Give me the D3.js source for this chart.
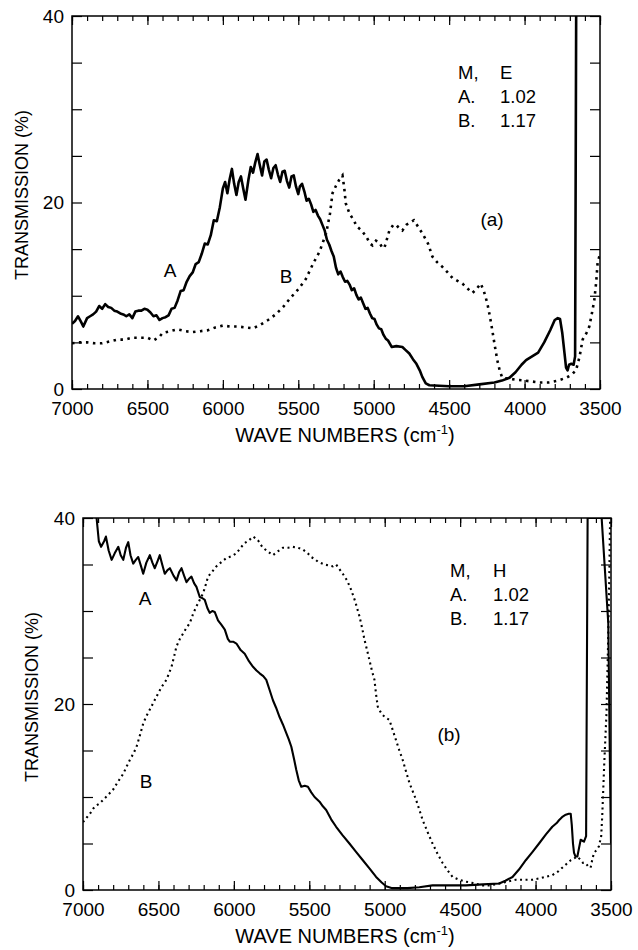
<!DOCTYPE html>
<html>
<head>
<meta charset="utf-8">
<script src="https://cdn.jsdelivr.net/npm/d3@7"></script>
<style>
    body { margin: 0; background: #fff; }
    svg text { font-family: "Liberation Sans", Arial, Helvetica, sans-serif; fill: #000; }
    .axis path { display: none; }
    .axis line { stroke: #000; stroke-width: 1.2; }
    .axis text { font-size: 19px; }
</style>
</head>
<body>
<div id="chart"></div>
<script>
// wave numbers (cm-1) and transmission (%)
var topA = [[7000,7.0],[6980,7.3],[6960,7.8],[6940,7.2],[6925,6.7],[6900,7.6],[6880,7.8],[6860,8.0],
    [6840,8.3],[6820,8.9],[6800,8.6],[6780,9.1],[6760,8.8],[6740,8.7],[6720,8.4],[6700,8.3],[6680,8.1],
    [6660,8.0],[6640,7.8],[6620,8.0],[6600,7.6],[6580,8.3],[6560,8.4],[6540,8.4],[6520,8.6],[6500,8.5],
    [6480,8.2],[6460,7.8],[6440,7.9],[6420,7.4],[6400,7.6],[6380,7.7],[6360,7.9],[6340,8.6],[6320,8.7],
    [6300,9.5],[6280,10.5],[6260,10.6],[6240,11.5],[6220,12.1],[6200,12.5],[6180,13.4],[6160,13.6],
    [6140,14.5],[6120,15.6],[6100,15.5],[6080,16.5],[6060,18.1],[6040,18.0],[6020,19.5],[6000,21.5],
    [5985,22.2],[5970,21.0],[5955,22.5],[5940,23.6],[5925,22.0],[5910,20.8],[5895,22.2],[5880,22.8],
    [5865,21.5],[5850,20.3],[5830,22.5],[5815,23.8],[5800,23.2],[5785,24.3],[5770,25.2],[5755,24.0],
    [5740,22.9],[5725,24.4],[5710,24.6],[5695,23.5],[5680,22.6],[5665,23.7],[5650,24.0],[5635,23.0],
    [5620,22.2],[5605,23.3],[5590,23.4],[5575,22.3],[5560,21.6],[5545,22.8],[5530,22.9],[5515,21.7],
    [5500,20.9],[5490,21.7],[5475,22.0],[5460,21.2],[5445,20.2],[5430,20.4],[5415,19.8],[5400,19.0],
    [5385,19.2],[5370,18.6],[5355,18.2],[5340,17.6],[5325,17.0],[5310,16.0],[5295,15.5],[5280,14.8],
    [5265,14.2],[5250,13.0],[5235,12.3],[5220,12.6],[5205,12.0],[5190,11.5],[5175,11.6],[5160,11.2],
    [5145,10.6],[5130,10.8],[5115,10.1],[5100,9.6],[5085,9.8],[5070,9.2],[5055,8.6],[5040,8.7],
    [5025,8.1],[5010,7.6],[4995,7.5],[4980,6.9],[4965,6.5],[4950,6.4],[4935,5.8],[4920,5.4],[4905,5.2],
    [4880,4.5],[4850,4.6],[4810,4.5],[4790,4.2],[4764,3.8],[4740,3.2],[4717,2.7],[4695,2.0],[4678,1.3],
    [4655,0.6],[4631,0.4],[4500,0.3],[4400,0.3],[4300,0.5],[4200,0.7],[4150,0.9],[4100,1.2],[4060,1.8],
    [4020,2.6],[3990,3.1],[3950,3.5],[3910,3.9],[3870,5.0],[3830,6.3],[3800,7.4],[3780,7.6],[3765,7.5],
    [3750,6.0],[3735,3.8],[3725,2.3],[3715,2.0],[3705,2.6],[3690,2.7],[3675,2.6],[3665,3.5],[3658,40]];

var topB = [[7000,4.9],[6950,5.0],[6900,5.0],[6850,4.9],[6800,4.9],[6750,5.1],[6700,5.3],[6650,5.3],
    [6600,5.5],[6550,5.5],[6500,5.5],[6460,5.2],[6420,5.6],[6400,6.0],[6350,6.2],[6300,6.4],[6250,6.2],
    [6200,6.1],[6150,6.2],[6100,6.3],[6050,6.6],[6000,6.8],[5950,6.7],[5900,6.7],[5850,6.6],[5800,6.5],
    [5750,6.9],[5700,7.4],[5650,8.0],[5600,8.8],[5550,9.8],[5500,10.7],[5450,11.8],[5400,13.5],
    [5360,14.7],[5315,16.7],[5290,18.8],[5273,21.0],[5250,21.8],[5230,22.4],[5207,22.9],[5195,21.5],
    [5185,19.9],[5160,18.8],[5140,18.3],[5110,17.4],[5080,17.0],[5048,16.3],[5025,15.6],[5008,15.4],
    [4985,15.9],[4962,15.7],[4945,15.2],[4930,15.1],[4910,16.2],[4896,17.0],[4870,17.6],[4850,17.6],
    [4830,17.2],[4810,17.0],[4785,17.6],[4764,17.8],[4734,18.1],[4710,17.5],[4678,16.7],[4640,15.6],
    [4611,14.2],[4580,13.6],[4545,13.1],[4510,12.5],[4478,11.9],[4445,11.6],[4412,11.3],[4380,10.8],
    [4346,10.3],[4320,10.7],[4291,11.3],[4270,10.5],[4247,9.2],[4230,7.8],[4214,6.3],[4198,4.7],
    [4181,3.1],[4165,2.0],[4148,1.2],[4100,1.1],[4060,1.0],[4000,0.9],[3950,0.8],[3900,0.7],[3840,0.7],
    [3780,0.9],[3725,1.2],[3690,1.5],[3659,2.0],[3635,3.5],[3615,5.3],[3590,6.0],[3571,6.7],[3555,8.0],
    [3538,9.5],[3525,11.5],[3516,13.5],[3500,14.5]];

var botA = [[6910,40],[6895,37.5],[6880,36.9],[6860,37.5],[6848,38.0],[6830,36.5],[6810,35.5],
    [6790,36.2],[6766,36.9],[6750,36.0],[6733,35.5],[6715,36.8],[6700,37.4],[6685,36.0],[6667,35.1],
    [6650,35.5],[6634,35.8],[6615,34.8],[6601,34.0],[6580,35.2],[6557,36.0],[6540,35.2],[6524,34.6],
    [6505,35.4],[6491,36.0],[6475,35.0],[6458,34.0],[6440,34.4],[6424,34.6],[6400,33.8],[6380,33.3],
    [6362,34.2],[6347,34.6],[6330,33.8],[6314,33.1],[6295,33.5],[6281,33.7],[6264,33.0],[6248,32.6],
    [6226,31.5],[6210,31.4],[6193,31.2],[6175,30.3],[6160,29.8],[6143,30.0],[6127,29.9],[6105,29.0],
    [6082,28.5],[6060,28.0],[6040,27.0],[6027,26.7],[6005,26.7],[5983,26.5],[5955,25.8],[5928,25.4],
    [5900,24.6],[5873,24.0],[5850,23.6],[5829,23.3],[5805,23.0],[5785,22.6],[5763,21.5],[5741,20.4],
    [5720,19.6],[5697,18.6],[5675,17.8],[5653,16.9],[5636,16.2],[5619,15.4],[5600,14.0],[5586,12.9],
    [5570,11.8],[5553,11.1],[5530,11.2],[5509,11.1],[5487,10.5],[5465,10.0],[5432,9.5],[5410,9.0],
    [5388,8.6],[5355,7.6],[5322,6.8],[5280,5.9],[5234,5.0],[5190,4.1],[5145,3.2],[5100,2.3],[5057,1.4],
    [5020,0.8],[4991,0.4],[4950,0.2],[4903,0.2],[4850,0.2],[4771,0.3],[4683,0.5],[4550,0.5],[4462,0.5],
    [4350,0.6],[4241,0.7],[4200,1.0],[4153,1.4],[4110,2.2],[4065,3.2],[4020,4.1],[3977,5.0],[3930,6.0],
    [3889,6.8],[3860,7.2],[3845,7.5],[3820,7.9],[3800,8.1],[3780,8.2],[3767,8.2],[3760,7.0],[3752,5.0],
    [3745,4.0],[3735,3.6],[3723,3.6],[3712,4.5],[3701,5.4],[3690,5.3],[3679,5.2],[3665,5.8],[3655,40],
    [3562,40],[3518,28.7],[3506,12],[3500,5]];

var botB = [[7000,7.3],[6975,7.8],[6954,8.2],[6930,8.8],[6910,9.1],[6890,9.3],[6866,9.7],[6835,10.2],
    [6800,10.8],[6770,11.6],[6733,12.5],[6710,13.3],[6689,14.0],[6665,14.7],[6645,15.4],[6625,16.5],
    [6601,17.9],[6580,18.7],[6557,19.4],[6535,20.1],[6513,20.8],[6480,21.8],[6447,22.6],[6430,23.3],
    [6413,24.0],[6395,25.2],[6380,26.2],[6358,27.0],[6336,27.6],[6314,28.2],[6292,28.7],[6270,29.7],
    [6248,30.5],[6226,31.2],[6204,31.9],[6185,32.9],[6171,33.7],[6145,34.2],[6116,34.8],[6080,35.3],
    [6049,35.7],[6015,35.9],[5983,36.2],[5955,36.8],[5928,37.3],[5900,37.6],[5873,38.0],[5855,37.8],
    [5840,37.6],[5825,37.2],[5807,36.8],[5775,36.4],[5741,36.0],[5710,36.4],[5675,36.8],[5640,36.8],
    [5609,36.9],[5575,36.8],[5542,36.6],[5510,36.2],[5487,35.8],[5465,35.6],[5443,35.3],[5400,35.0],
    [5344,34.8],[5322,35.0],[5300,34.5],[5278,34.0],[5250,33.3],[5223,32.3],[5195,31.0],[5167,29.4],
    [5150,28.2],[5134,26.9],[5117,25.8],[5101,24.7],[5085,23.6],[5068,22.6],[5057,21.0],[5046,19.7],
    [5030,19.2],[5013,18.8],[4990,18.5],[4969,18.3],[4947,17.2],[4925,16.1],[4903,15.0],[4881,14.0],
    [4858,12.7],[4836,11.5],[4814,10.6],[4792,9.7],[4770,8.6],[4748,7.5],[4715,6.2],[4683,5.0],
    [4650,3.9],[4616,2.9],[4583,2.1],[4550,1.4],[4506,1.1],[4462,0.9],[4400,0.7],[4352,0.5],[4300,0.5],
    [4241,0.7],[4190,0.9],[4131,1.1],[4075,1.1],[4021,1.1],[3960,1.3],[3889,1.6],[3850,2.0],[3823,2.4],
    [3795,2.8],[3767,3.2],[3745,3.4],[3723,3.6],[3700,3.2],[3685,2.9],[3668,2.9],[3650,2.5],[3635,2.4],
    [3625,3.2],[3613,4.0],[3595,4.3],[3580,4.7],[3565,5.8],[3558,8.0],[3545,13.5],[3530,19.0],
    [3520,26.0],[3512,33.0],[3506,40]];

var xDomain = [7000, 3500];
var yDomain = [0, 40];
var xMajorTicks = [7000, 6500, 6000, 5500, 5000, 4500, 4000, 3500];
var yLabelTicks = [0, 20, 40];
var legendTop = [["M,", "E"], ["A.", "1.02"], ["B.", "1.17"]];
var legendBot = [["M,", "H"], ["A.", "1.02"], ["B.", "1.17"]];

var svg = d3.select("#chart").append("svg")
    .attr("width", 638)
    .attr("height", 950);

function drawPanel(p) {
    var width = p.right - p.left,
        height = p.bottom - p.top;

    var x = d3.scaleLinear().domain(xDomain).range([0, width]);
    var y = d3.scaleLinear().domain(yDomain).range([height, 0]);

    var g = svg.append("g")
        .attr("transform", "translate(" + p.left + "," + p.top + ")");

    g.append("clipPath").attr("id", p.id + "clip")
      .append("rect")
        .attr("x", 0).attr("y", 0)
        .attr("width", width).attr("height", height);

    var minor = d3.range(7000, 3499, -100);
    var major = xMajorTicks;

    // minor and major ticks, bottom and top, pointing in
    g.append("g").attr("class", "axis")
        .attr("transform", "translate(0," + height + ")")
        .call(d3.axisBottom(x).tickValues(minor).tickSize(-5).tickSizeOuter(0).tickFormat(""));
    g.append("g").attr("class", "axis")
        .attr("transform", "translate(0," + height + ")")
        .call(d3.axisBottom(x).tickValues(major).tickSize(-9).tickSizeOuter(0).tickPadding(13).tickFormat(d3.format("d")));
    g.append("g").attr("class", "axis")
        .call(d3.axisTop(x).tickValues(minor).tickSize(-5).tickSizeOuter(0).tickFormat(""));
    g.append("g").attr("class", "axis")
        .call(d3.axisTop(x).tickValues(major).tickSize(-9).tickSizeOuter(0).tickFormat(""));

    var yTicks = d3.range(0, 41, 5);
    g.append("g").attr("class", "axis")
        .call(d3.axisLeft(y).tickValues(yTicks).tickSize(-10).tickSizeOuter(0).tickPadding(8)
            .tickFormat(function(d) { return yLabelTicks.indexOf(d) >= 0 ? d : ""; }));
    g.append("g").attr("class", "axis")
        .attr("transform", "translate(" + width + ",0)")
        .call(d3.axisRight(y).tickValues(yTicks).tickSize(-10).tickSizeOuter(0).tickFormat(""));

    // frame
    g.append("rect")
        .attr("width", width).attr("height", height)
        .attr("fill", "none").attr("stroke", "#000").attr("stroke-width", 1.5);

    var line = d3.line()
        .x(function(d) { return x(d[0]); })
        .y(function(d) { return y(d[1]); });

    var curves = g.append("g").attr("clip-path", "url(#" + p.id + "clip)");
    curves.append("path")
        .datum(p.a)
        .attr("d", line)
        .attr("fill", "none")
        .attr("stroke", "#000")
        .attr("stroke-width", p.aWidth)
        .attr("stroke-linejoin", "round");
    curves.append("path")
        .datum(p.b)
        .attr("d", line)
        .attr("fill", "none")
        .attr("stroke", "#000")
        .attr("stroke-width", p.bWidth)
        .attr("stroke-dasharray", p.bDash);

    // axis titles
    var xt = svg.append("text")
        .attr("x", p.xTitle[0]).attr("y", p.xTitle[1])
        .attr("text-anchor", "middle")
        .style("font-size", "20px");
    xt.append("tspan").text("WAVE NUMBERS (cm");
    xt.append("tspan").attr("dy", -8).style("font-size", "13px").text("-1");
    xt.append("tspan").attr("dy", 8).text(")");

    svg.append("text")
        .attr("transform", "translate(" + p.yTitle[0] + "," + p.yTitle[1] + ") rotate(-90)")
        .attr("text-anchor", "middle")
        .attr("dy", "0.35em")
        .style("font-size", "18px")
        .text("TRANSMISSION (%)");

    // legend block
    p.legend.forEach(function(row, i) {
        svg.append("text")
            .attr("x", p.legendPos[0]).attr("y", p.legendPos[1] + i * 24)
            .style("font-size", "18.5px").text(row[0]);
        svg.append("text")
            .attr("x", p.legendPos[2]).attr("y", p.legendPos[1] + i * 24)
            .style("font-size", "18.5px").text(row[1]);
    });

    // curve labels and panel tag
    p.labels.forEach(function(l) {
        svg.append("text")
            .attr("x", l[1]).attr("y", l[2])
            .attr("text-anchor", "middle")
            .style("font-size", "19px")
            .text(l[0]);
    });
}

drawPanel({
    id: "pa", left: 72, top: 16, right: 600, bottom: 389,
    a: topA, b: topB, aWidth: 2.6, bWidth: 2.6, bDash: "2.5,4.5",
    xTitle: [345, 442], yTitle: [22, 195],
    legend: legendTop, legendPos: [458, 79, 500],
    labels: [["A", 170, 277], ["B", 286, 283], ["(a)", 492, 226]]
});

drawPanel({
    id: "pb", left: 83, top: 518, right: 611, bottom: 890,
    a: botA, b: botB, aWidth: 2.1, bWidth: 2.1, bDash: "2,3.5",
    xTitle: [345, 943], yTitle: [32, 697],
    legend: legendBot, legendPos: [450, 577, 493],
    labels: [["A", 145, 605], ["B", 146, 788], ["(b)", 449, 741]]
});
</script>
</body>
</html>
